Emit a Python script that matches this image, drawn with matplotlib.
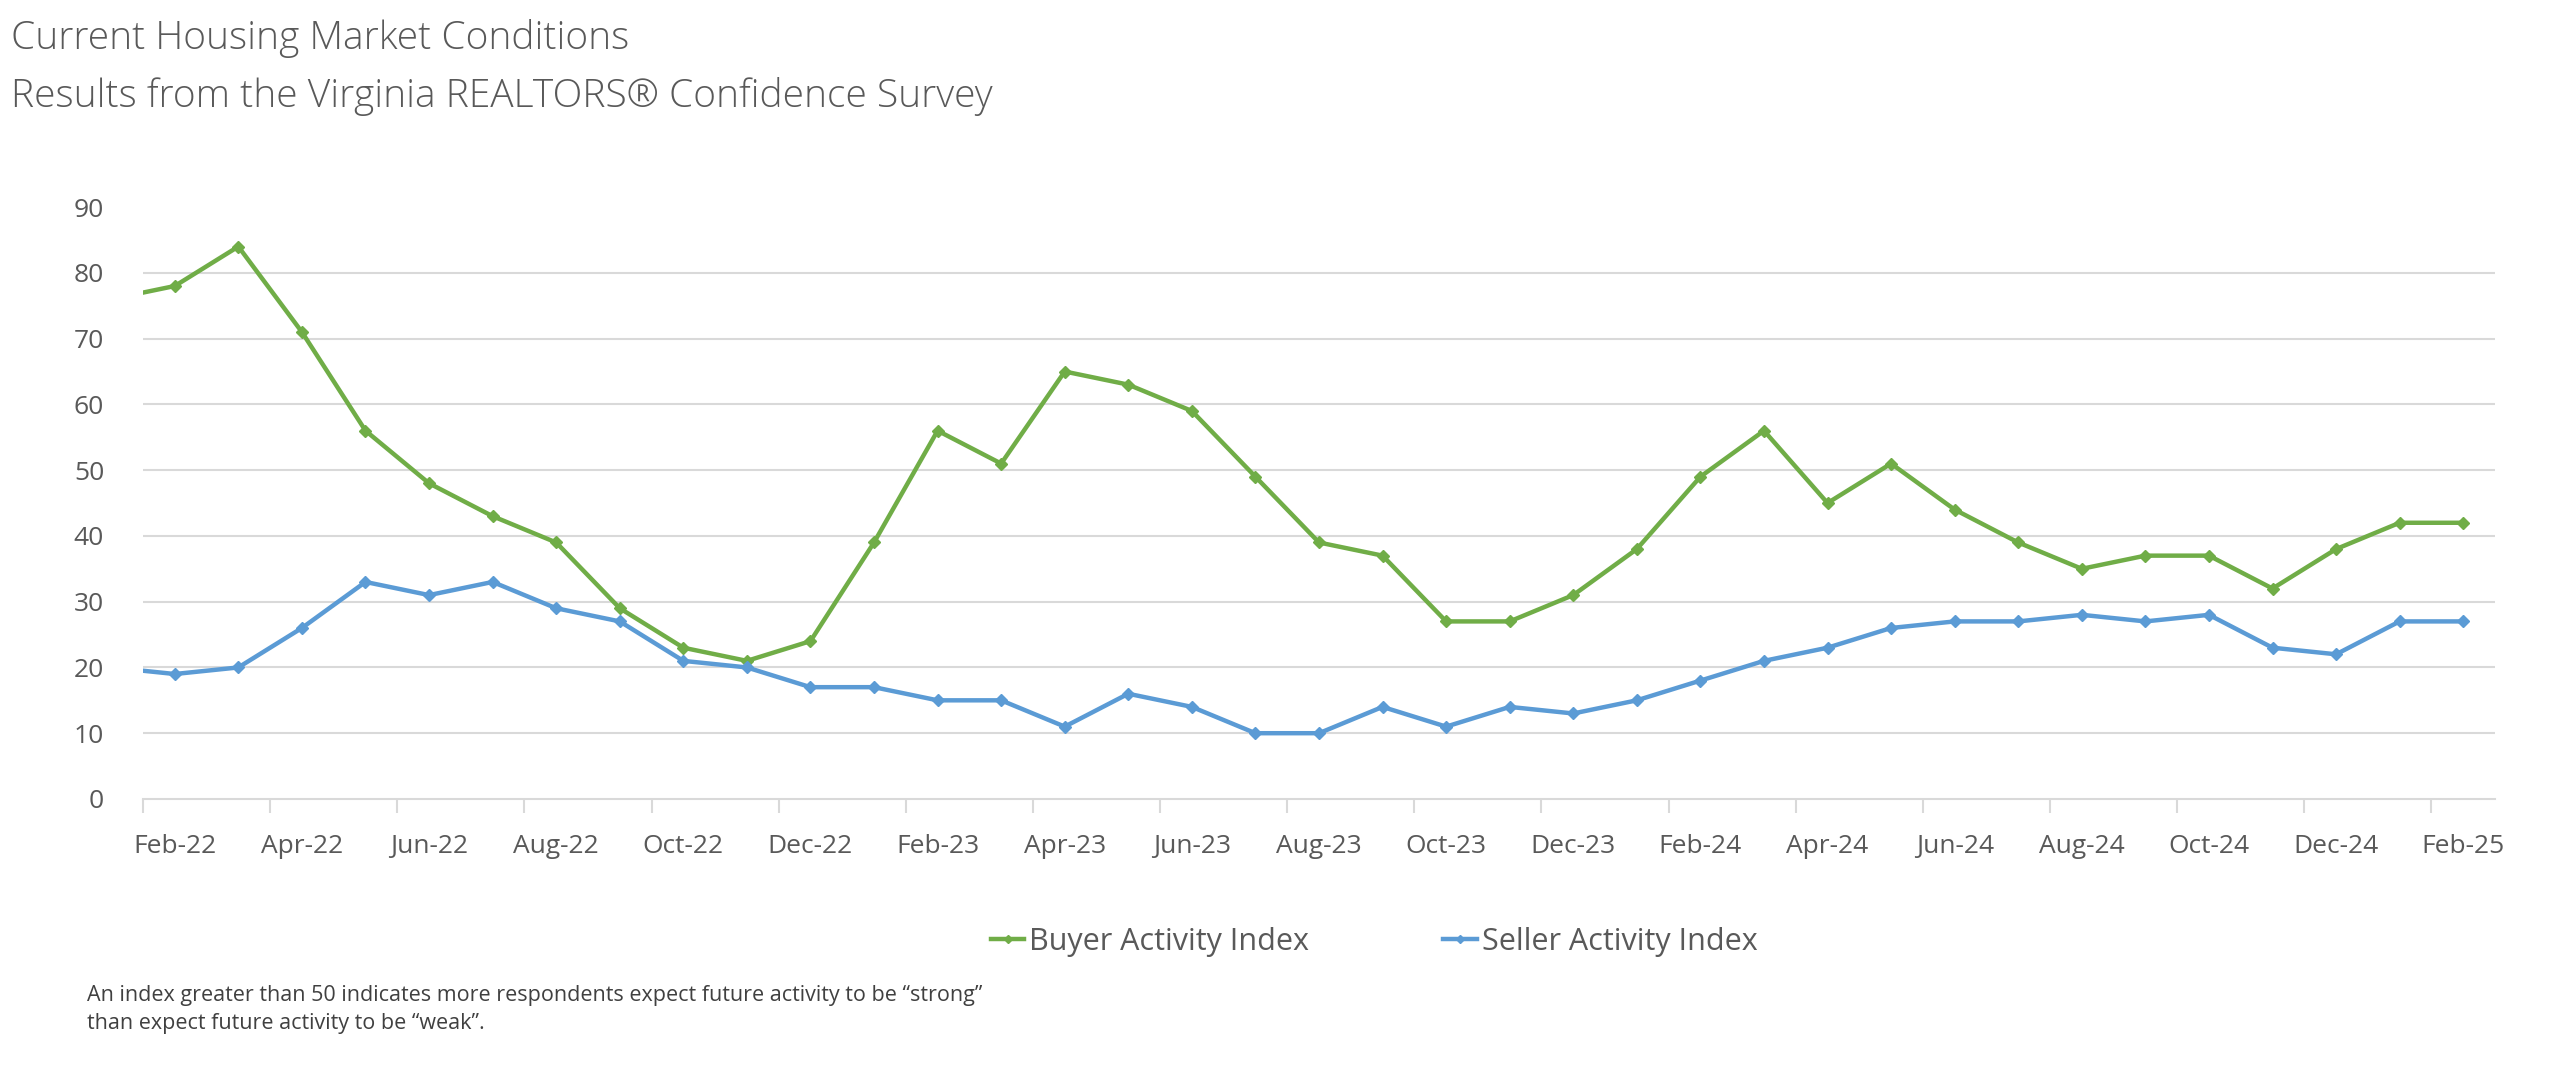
import matplotlib
matplotlib.use("Agg")
import matplotlib.pyplot as plt
from matplotlib.ticker import FixedLocator

plt.rcParams['font.family'] = ['Open Sans', 'DejaVu Sans']

# Jan-22 is only there so the line runs in from the left edge, as in the source chart
months = ['Jan-22', 'Feb-22', 'Mar-22', 'Apr-22', 'May-22', 'Jun-22', 'Jul-22', 'Aug-22',
          'Sep-22', 'Oct-22', 'Nov-22', 'Dec-22', 'Jan-23', 'Feb-23', 'Mar-23', 'Apr-23',
          'May-23', 'Jun-23', 'Jul-23', 'Aug-23', 'Sep-23', 'Oct-23', 'Nov-23', 'Dec-23',
          'Jan-24', 'Feb-24', 'Mar-24', 'Apr-24', 'May-24', 'Jun-24', 'Jul-24', 'Aug-24',
          'Sep-24', 'Oct-24', 'Nov-24', 'Dec-24', 'Jan-25', 'Feb-25']
buyer = [76, 78, 84, 71, 56, 48, 43, 39, 29, 23, 21, 24, 39, 56, 51, 65, 63, 59, 49,
         39, 37, 27, 27, 31, 38, 49, 56, 45, 51, 44, 39, 35, 37, 37, 32, 38, 42, 42]
seller = [20, 19, 20, 26, 33, 31, 33, 29, 27, 21, 20, 17, 17, 15, 15, 11, 16, 14, 10,
          10, 14, 11, 14, 13, 15, 18, 21, 23, 26, 27, 27, 28, 27, 28, 23, 22, 27, 27]
yticks = [0, 10, 20, 30, 40, 50, 60, 70, 80, 90]

green = '#70ad47'
blue = '#5b9bd5'
txt = '#595959'

fig = plt.figure(figsize=(25.6, 10.9), dpi=100)
ax = fig.add_axes([143/2560, 0.267, (2495-143)/2560, 0.543])

x = list(range(len(months)))
ax.plot(x, buyer, color=green, lw=3.2, marker='D', ms=6.5, label='Buyer Activity Index')
ax.plot(x, seller, color=blue, lw=3.2, marker='D', ms=6.5, label='Seller Activity Index')

ax.set_xlim(0.5, len(months) - 0.5)
ax.set_ylim(0, 90)

# labels on every second month starting Feb-22, tick marks on category boundaries
lab_pos = list(range(1, len(months), 2))
ax.xaxis.set_major_locator(FixedLocator(lab_pos))
ax.set_xticklabels([months[i] for i in lab_pos])
ax.xaxis.set_minor_locator(FixedLocator([p - 0.5 for p in lab_pos]))
ax.tick_params(axis='x', which='major', length=0, pad=25, labelsize=19, labelcolor=txt)
ax.tick_params(axis='x', which='minor', length=10, width=1.5, color='#d9d9d9')

ax.set_yticks(yticks)
ax.tick_params(axis='y', length=0, pad=28, labelsize=19, labelcolor=txt)
for v in yticks[1:-1]:
    ax.axhline(v, color='#d9d9d9', lw=1.5, zorder=0)

for s in ['top', 'right', 'left']:
    ax.spines[s].set_visible(False)
ax.spines['bottom'].set_color('#d9d9d9')
ax.spines['bottom'].set_linewidth(1.5)

leg = fig.legend(loc='center', bbox_to_anchor=(1374/2560, 1 - 942/1090), ncol=2,
                 frameon=False, fontsize=22, handlelength=1.1, handletextpad=0.15,
                 columnspacing=4.4, markerscale=0.65)
for t in leg.get_texts():
    t.set_color(txt)

fig.text(11/2560, 1 - 38/1090, 'Current Housing Market Conditions', fontsize=28,
         fontweight='light', color=txt, va='center', ha='left')
fig.text(11/2560, 1 - 97/1090, 'Results from the Virginia REALTORS® Confidence Survey',
         fontsize=28, fontweight='light', color=txt, va='center', ha='left')

fig.text(87/2560, 1 - 996/1090,
         'An index greater than 50 indicates more respondents expect future activity to be \u201cstrong\u201d',
         fontsize=15.5, color='#404040', va='center', ha='left')
fig.text(87/2560, 1 - 1024/1090, 'than expect future activity to be \u201cweak\u201d.',
         fontsize=15.5, color='#404040', va='center', ha='left')

fig.savefig('out.png', dpi=100, facecolor='white')
